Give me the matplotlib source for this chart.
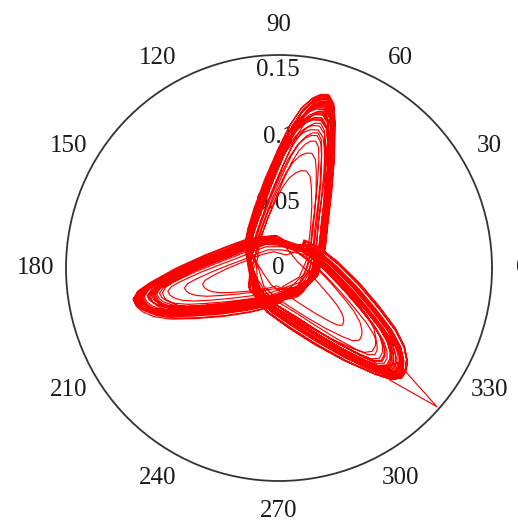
import numpy as np
import matplotlib
matplotlib.use("Agg")
import matplotlib.pyplot as plt

# Shape of one petal of the trajectory: angle offset from the petal axis (deg)
# and radius as a fraction of the petal's reach. Outbound on the leading side,
# round the tip, back on the trailing side and round the centre to the next petal.
petal_dtheta = [73, 55, 39.5, 26, 17.5, 12.6, 9, 6, 3.6, 1, -1.5, -4, -9.6,
                -18, -30.5, -50, -84, -132]
petal_rfrac = [0.23, 0.28, 0.36, 0.50, 0.66, 0.80, 0.90, 0.96, 0.99, 1.0, 0.96,
               0.87, 0.69, 0.51, 0.37, 0.28, 0.22, 0.19]

# Petal axes (deg) and relative widths: upper, left, lower-right
axis_up, axis_left, axis_lr = 73.0, 191.0, 317.0
width_up, width_left, width_lr = 1.0, 1.0, 1.08

# Reach of every petal, cycle by cycle
reach_up = [0.118, 0.126, 0.104, 0.121, 0.112, 0.097, 0.124, 0.108, 0.119, 0.084,
            0.115, 0.127, 0.101, 0.122, 0.110, 0.125, 0.093, 0.117, 0.123, 0.106,
            0.071, 0.120, 0.113, 0.126, 0.099, 0.116, 0.124, 0.109, 0.121, 0.114]
reach_left = [0.099, 0.104, 0.090, 0.102, 0.084, 0.100, 0.095, 0.105, 0.088, 0.098,
              0.103, 0.055, 0.093, 0.104, 0.089, 0.101, 0.080, 0.099, 0.105, 0.092,
              0.102, 0.068, 0.097, 0.103, 0.086, 0.100, 0.094, 0.104, 0.091, 0.101]
reach_lr = [0.111, 0.104, 0.116, 0.098, 0.113, 0.107, 0.091, 0.115, 0.102, 0.112,
            0.060, 0.109, 0.116, 0.097, 0.110, 0.105, 0.114, 0.088, 0.111, 0.103,
            0.115, 0.100, 0.076, 0.113, 0.106, 0.116, 0.095, 0.110, 0.108, 0.114]
# Angular width of the petals, cycle by cycle
spread = [1.00, 0.90, 1.10, 0.84, 1.05, 0.95, 0.80, 1.14, 0.92, 1.02,
          0.78, 0.98, 1.12, 0.87, 1.04, 0.94, 0.82, 1.08, 0.97, 0.89,
          1.16, 0.83, 0.96, 1.01, 0.86, 1.09, 0.93, 1.06, 0.88, 1.00]

# Opening transient: from the outer point back into the lower-right petal
start_theta_deg = [314.7, 318.7, 321.4]
start_r = [0.111, 0.148, 0.107]
start_lr_reach = 0.113

theta_ticks = list(range(0, 360, 30))
theta_labels = [str(t) for t in theta_ticks]
r_labels = ["0", "0.05", "0.1", "0.15"]
r_max = 0.15

# ---- assemble the trajectory ----
th = list(start_theta_deg)
rr = list(start_r)
for d, f in zip(petal_dtheta[11:], petal_rfrac[11:]):
    th.append(axis_lr + width_lr * d)
    rr.append(start_lr_reach * f)


def add_petal(axis, reach, s):
    for d, f in zip(petal_dtheta, petal_rfrac):
        th.append(axis + s * d)
        rr.append(reach * f)


for k in range(len(reach_up)):
    add_petal(axis_up, reach_up[k], width_up * spread[k])
    add_petal(axis_left, reach_left[k], width_left * spread[k])
    add_petal(axis_lr, reach_lr[k], width_lr * spread[k])

theta = np.unwrap(np.radians(th))
r = np.array(rr)

# ---- figure ----
plt.rcParams["font.family"] = ["Liberation Serif", "DejaVu Serif"]
fig = plt.figure(figsize=(5.18, 5.21), dpi=100)
ax = fig.add_axes([66 / 518, 40 / 521, 426 / 518, 426 / 521], projection="polar")
ax.set_ylim(0, r_max)
ax.grid(False)
ax.set_xticks([])
ax.set_yticks([])
ax.spines["polar"].set_color("#333333")
ax.spines["polar"].set_linewidth(1.3)

ax.plot(theta, r, color="#ff0000", lw=0.85, zorder=2)

# angle labels outside the circle
for t, lab in zip(theta_ticks, theta_labels):
    a = np.radians(t)
    ax.text(0.5 + 0.5 * 1.141 * np.cos(a), 0.5 + 0.5 * 1.141 * np.sin(a), lab,
            transform=ax.transAxes, ha="center", va="center", fontsize=18,
            color="#1a1a1a", clip_on=False, zorder=1)

# radial labels along the 90 degree direction, under the trajectory
r_label_y = [0.5, 0.653, 0.808, 0.965]
for lab, y in zip(r_labels, r_label_y):
    ax.text(0.498, y, lab, transform=ax.transAxes, ha="center", va="center",
            fontsize=18, color="#1a1a1a", zorder=1)

fig.savefig("out.png", dpi=100)
